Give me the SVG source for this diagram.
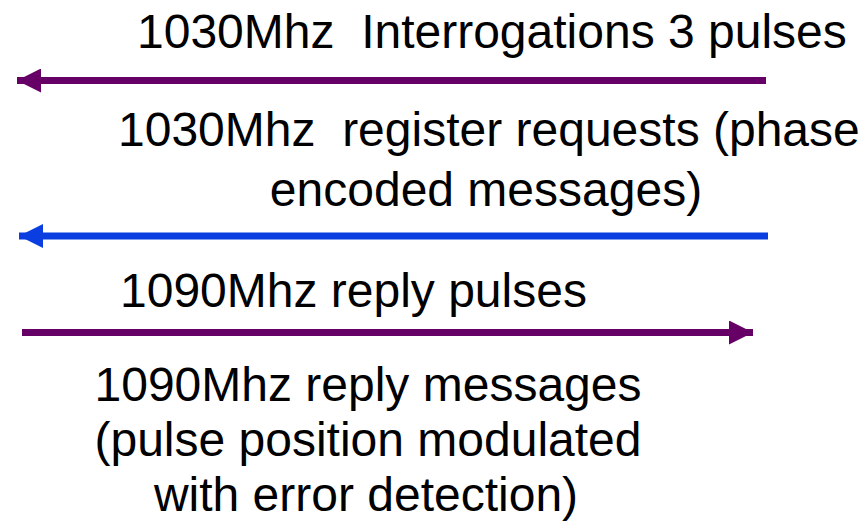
<svg xmlns="http://www.w3.org/2000/svg" width="867" height="524" viewBox="0 0 867 524">
  <style>
    .lbl { font-family: "Liberation Sans", Arial, sans-serif; font-size: 48px; fill: #000; }
  </style>
  <defs>
    <marker id="headPurple" markerUnits="userSpaceOnUse" viewBox="0 0 24 24" refX="24" refY="12" markerWidth="24" markerHeight="24" orient="auto">
      <path d="M0,0 L24,12 L0,24 Z" fill="#660066"/>
    </marker>
    <marker id="headBlue" markerUnits="userSpaceOnUse" viewBox="0 0 24 24" refX="24" refY="12" markerWidth="24" markerHeight="24" orient="auto">
      <path d="M0,0 L24,12 L0,24 Z" fill="#0a3ee0"/>
    </marker>
  </defs>
  <rect width="867" height="524" fill="#fff"/>

  <g id="connectors">
    <line x1="766" y1="80.5" x2="17" y2="80.5" stroke="#660066" stroke-width="7" marker-end="url(#headPurple)"/>
    <line x1="768" y1="236" x2="19" y2="236" stroke="#0a3ee0" stroke-width="7" marker-end="url(#headBlue)"/>
    <line x1="22" y1="332.5" x2="753" y2="332.5" stroke="#660066" stroke-width="7" marker-end="url(#headPurple)"/>
  </g>

  <g id="interrogations">
    <text class="lbl" x="137" y="48" xml:space="preserve">1030Mhz  Interrogations 3 pulses</text>
  </g>
  <g id="register-requests">
    <text class="lbl" x="118" y="146" xml:space="preserve">1030Mhz  register requests (phase</text>
    <text class="lbl" x="486" y="206" text-anchor="middle">encoded messages)</text>
  </g>
  <g id="reply-pulses">
    <text class="lbl" x="120" y="307">1090Mhz reply pulses</text>
  </g>
  <g id="reply-messages">
    <text class="lbl" x="368" y="401" text-anchor="middle">1090Mhz reply messages</text>
    <text class="lbl" x="368" y="456" text-anchor="middle">(pulse position modulated</text>
    <text class="lbl" x="366" y="511" text-anchor="middle">with error detection)</text>
  </g>
</svg>
